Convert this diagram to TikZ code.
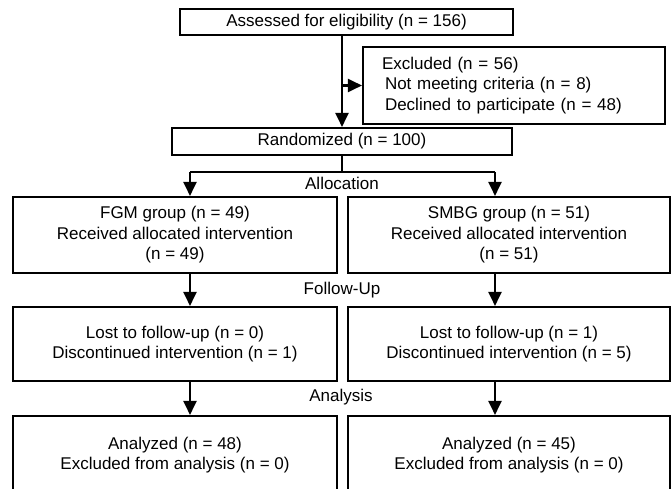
\documentclass[tikz,border=0pt]{standalone}
\usepackage{fontspec}
\setmainfont{Liberation Sans}
\usetikzlibrary{arrows.meta, positioning}
\tikzset{
  box/.style={draw, line width=2.1pt, inner sep=0pt, align=center}, % every framed box
  flow/.style={line width=2.1pt, -{Triangle[length=14pt, width=13pt]}}, % the arrows
  stage/.style={inner sep=1pt}, % the stage labels between rows
}

\begin{document}
\begin{tikzpicture}[x=1pt, y=-1pt, font=\fontsize{17}{20.5}\selectfont]
    \clip (0,0) rectangle (672,489);

    \node[box, minimum width=333pt, minimum height=26pt] (assess) at (346.5,22)
      {Assessed for eligibility (n = 156)};
    \node[box, minimum width=302pt, minimum height=77pt, text width=264pt,
      inner xsep=19pt, align=left] (excl) at (514,85.5)
      {Excluded (n = 56)\\\hspace*{3pt}Not meeting criteria (n = 8)\\
      \hspace*{3pt}Declined to participate (n = 48)};
    \node[box, minimum width=340pt, minimum height=27pt] (rand) at (342,141.5)
      {Randomized (n = 100)};

    \node[box, minimum width=324pt, minimum height=76pt] (fgm) at (175,235)
      {FGM group (n = 49)\\Received allocated intervention\\(n = 49)};
    \node[box, minimum width=322pt, minimum height=76pt] (smbg) at (509,235)
      {SMBG group (n = 51)\\Received allocated intervention\\(n = 51)};

    \node[box, minimum width=324pt, minimum height=74pt] (lostfgm) at (175,344)
      {Lost to follow-up (n = 0)\\Discontinued intervention (n = 1)};
    \node[box, minimum width=322pt, minimum height=74pt] (lostsmbg) at (509,344)
      {Lost to follow-up (n = 1)\\Discontinued intervention (n = 5)};

    \node[box, minimum width=324pt, minimum height=78pt] (anafgm) at (175,455)
      {Analyzed (n = 48)\\Excluded from analysis (n = 0)};
    \node[box, minimum width=322pt, minimum height=78pt] (anasmbg) at (509,455)
      {Analyzed (n = 45)\\Excluded from analysis (n = 0)};

    \node[stage] (alloc) at (342,183) {Allocation};
    \node[stage] (follow) at (342,290) {Follow-Up};
    \node[stage] (analysis) at (341,397) {Analysis};

    \coordinate (fork) at (342,172);
    \coordinate (forkl) at (190,172);
    \coordinate (forkr) at (495,172);

    \draw[flow] (rand.north |- assess.south) -- (rand.north);
    \draw[flow] (rand.north |- excl.west) -- (excl.west);
    \draw[line width=2.1pt] (rand.south) -- (fork);
    \draw[line width=2.1pt] (forkl) -- (forkr);

    \draw[flow] (forkl) -- (forkl |- fgm.north);
    \draw[flow] (forkr) -- (forkr |- smbg.north);
    \draw[flow] (forkl |- fgm.south) -- (forkl |- lostfgm.north);
    \draw[flow] (forkr |- smbg.south) -- (forkr |- lostsmbg.north);
    \draw[flow] (forkl |- lostfgm.south) -- (forkl |- anafgm.north);
    \draw[flow] (forkr |- lostsmbg.south) -- (forkr |- anasmbg.north);
  \end{tikzpicture}
\end{document}
